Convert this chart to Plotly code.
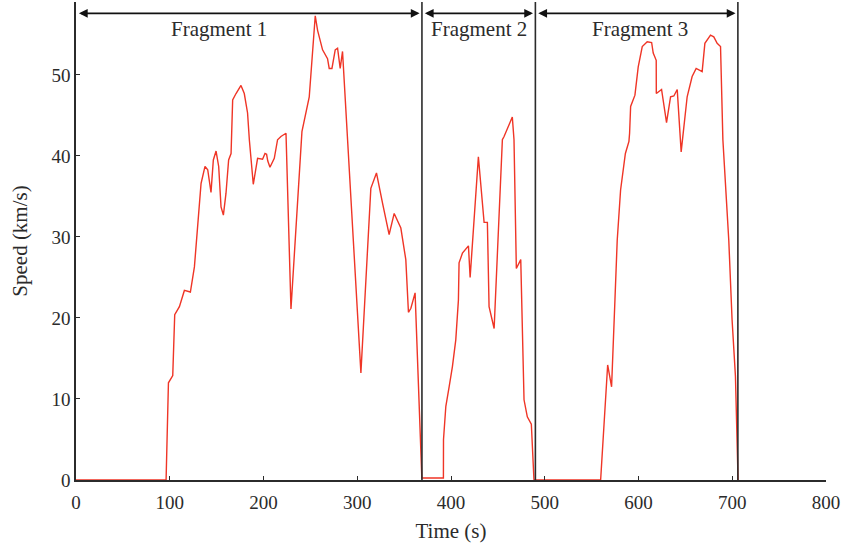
import plotly.graph_objects as go

# Vehicle speed trace (time in s, speed in km/s)
time_s = [
    0, 96.1, 98.6, 103.2, 105.3, 110.3, 115.6, 122.0, 126.3, 129.8, 133.4, 137.6,
    140.5, 144.0, 146.5, 149.4, 152.2, 154.7, 157.2, 160.0, 162.8, 165.4, 167.1,
    170.7, 176.0, 179.5, 183.0, 184.9, 189.1, 193.7, 199.0, 201.6, 203.3, 204.5,
    206.9, 211.5, 215.0, 218.6, 224.0, 229.3, 241.0, 248.8, 255.2, 257.7, 263.0,
    268.3, 270.1, 273.0, 276.5, 279.0, 281.8, 284.3, 289.6, 296.7, 303.9, 314.5,
    320.5, 326.9, 334.0, 339.4, 346.5, 351.8, 354.6, 357.2, 361.7, 368.9,
    369.0, 391.9, 392.0, 394.5, 398.0, 401.5, 405.1, 407.9, 408.6, 412.2, 418.6,
    420.4, 429.2, 435.3, 438.8, 440.6, 446.0, 454.8, 456.6, 465.4, 467.2, 469.7,
    474.4, 477.9, 481.4, 485.7, 488.5,
    559.6, 567.1, 571.3, 574.9, 577.3, 580.9, 586.0, 589.8, 590.5, 591.6, 596.2,
    599.7, 604.0, 609.3, 614.0, 615.7, 618.9, 619.0, 624.6, 629.9, 634.2, 637.7,
    641.3, 645.5, 651.9, 657.2, 661.5, 667.9, 670.8, 676.8, 680.3, 683.9, 687.5,
    690.0, 696.3, 699.8, 703.4, 706.2,
]
speed_kms = [
    0, 0, 12.0, 12.9, 20.4, 21.4, 23.4, 23.2, 26.3, 31.3, 36.6, 38.7,
    38.3, 35.5, 39.5, 40.6, 38.7, 33.7, 32.7, 35.4, 39.5, 40.3, 46.9,
    47.7, 48.7, 47.7, 45.3, 42.0, 36.5, 39.7, 39.6, 40.3, 40.2, 39.4,
    38.6, 39.7, 42.0, 42.4, 42.8, 21.1, 43.0, 47.3, 57.3, 55.5, 53.1,
    52.0, 50.8, 50.8, 53.1, 53.3, 50.8, 52.9, 42.0, 28.8, 13.2, 36.0,
    37.9, 34.2, 30.3, 32.9, 31.1, 27.2, 20.7, 21.2, 23.1, 0.25,
    0.25, 0.25, 5.0, 9.1, 11.5, 14.0, 17.3, 22.2, 26.8, 28.0, 28.9,
    25.0, 39.9, 31.8, 31.8, 21.4, 18.7, 42.0, 42.4, 44.8, 42.0, 26.1,
    27.2, 9.9, 7.8, 6.9, 0,
    0, 14.2, 11.5, 22.3, 29.6, 35.8, 40.3, 41.8, 42.8, 46.1, 47.5,
    51.0, 53.5, 54.1, 54.0, 52.7, 51.8, 47.7, 48.2, 44.1, 47.3, 47.4,
    48.2, 40.5, 47.3, 49.8, 50.8, 50.4, 53.9, 54.9, 54.7, 53.9, 53.5,
    42.0, 29.6, 19.8, 12.8, 0,
]

# Fragment boundaries and labels
fragment_bounds = [0, 369, 490, 706]
fragment_names = ["Fragment 1", "Fragment 2", "Fragment 3"]
fragment_label_x = [153, 430, 602]

x_ticks = [0, 100, 200, 300, 400, 500, 600, 700, 800]
y_ticks = [0, 10, 20, 30, 40, 50]

FONT = "Liberation Serif"
INK = "#2b2b2b"

fig = go.Figure()
fig.add_trace(go.Scatter(
    x=time_s, y=speed_kms, mode="lines",
    line=dict(color="#ef3526", width=1.4),
    showlegend=False, hoverinfo="skip",
))

# Vertical separators between fragments
for xb in fragment_bounds[1:]:
    fig.add_shape(type="line", xref="x", yref="paper", x0=xb, x1=xb, y0=0, y1=1,
                  line=dict(color=INK, width=1.6))

# Double-headed arrows spanning each fragment, with labels
arrow_y = 57.6
for i, name in enumerate(fragment_names):
    left, right = fragment_bounds[i] + 1.5, fragment_bounds[i + 1] - 2.5
    fig.add_annotation(x=right, y=arrow_y, ax=left, ay=arrow_y,
                       xref="x", yref="y", axref="x", ayref="y",
                       text="", showarrow=True, arrowhead=2, startarrowhead=2,
                       arrowside="end+start", arrowsize=1.1, startarrowsize=1.1,
                       arrowwidth=1.6, arrowcolor="#111")
    fig.add_annotation(x=fragment_label_x[i], y=55.7, xref="x", yref="y",
                       text=name, showarrow=False,
                       font=dict(family=FONT, size=21, color=INK))

axis_common = dict(
    showline=True, linecolor=INK, linewidth=1.6, mirror=False,
    ticks="inside", ticklen=4, tickwidth=1.3, tickcolor=INK,
    showgrid=False, zeroline=False,
    tickfont=dict(family=FONT, size=19, color=INK),
)

fig.update_xaxes(range=[0, 800], tickvals=x_ticks, ticktext=[str(v) for v in x_ticks],
                 ticklabelstandoff=4,
                 title=dict(text="Time (s)", font=dict(family=FONT, size=21, color=INK),
                            standoff=12),
                 **axis_common)
fig.update_yaxes(range=[0, 59.0], tickvals=y_ticks, ticktext=[str(v) for v in y_ticks],
                 title=dict(text="Speed (km/s)", font=dict(family=FONT, size=21, color=INK),
                            standoff=18),
                 **axis_common)

fig.update_layout(
    width=842, height=546,
    margin=dict(l=76, r=16, t=2, b=66),
    plot_bgcolor="white", paper_bgcolor="white",
)

fig.write_html("out.html")
